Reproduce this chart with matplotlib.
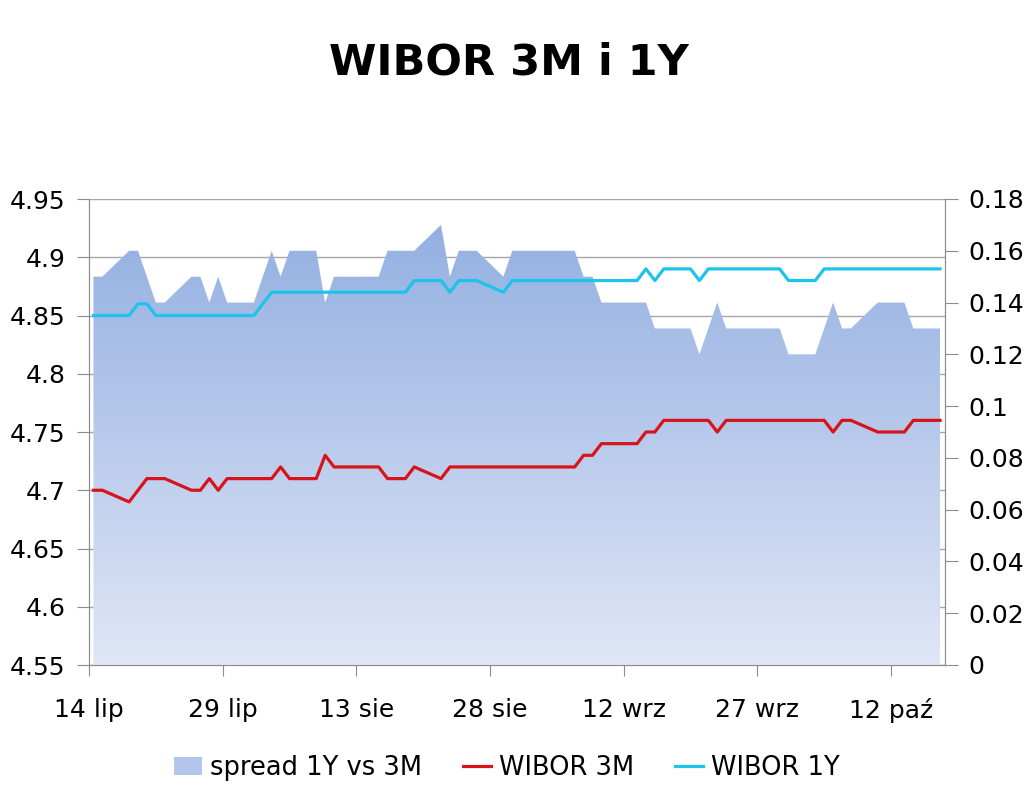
import matplotlib
matplotlib.use('Agg')
import matplotlib.pyplot as plt
import matplotlib.dates as mdates
from matplotlib.colors import LinearSegmentedColormap
from matplotlib.lines import Line2D
from matplotlib.patches import Patch
from matplotlib.ticker import FuncFormatter
import numpy as np
import pandas as pd

# fixing days, 14 Jul - 17 Oct 2011
dates = pd.bdate_range('2011-07-14', '2011-10-17')

wibor_3m = [
    4.70, 4.70,
    4.69, 4.70, 4.71, 4.71, 4.71,
    4.70, 4.70, 4.71, 4.70, 4.71,
    4.71, 4.71, 4.71, 4.72, 4.71,
    4.71, 4.73, 4.72, 4.72, 4.72,
    4.72, 4.71, 4.71, 4.71, 4.72,
    4.71, 4.72, 4.72, 4.72, 4.72,
    4.72, 4.72, 4.72, 4.72, 4.72,
    4.72, 4.72, 4.73, 4.73, 4.74,
    4.74, 4.74, 4.75, 4.75, 4.76,
    4.76, 4.76, 4.76, 4.75, 4.76,
    4.76, 4.76, 4.76, 4.76, 4.76,
    4.76, 4.76, 4.75, 4.76, 4.76,
    4.75, 4.75, 4.75, 4.75, 4.76,
    4.76,
]

wibor_1y = [
    4.85, 4.85,
    4.85, 4.86, 4.86, 4.85, 4.85,
    4.85, 4.85, 4.85, 4.85, 4.85,
    4.85, 4.86, 4.87, 4.87, 4.87,
    4.87, 4.87, 4.87, 4.87, 4.87,
    4.87, 4.87, 4.87, 4.87, 4.88,
    4.88, 4.87, 4.88, 4.88, 4.88,
    4.87, 4.88, 4.88, 4.88, 4.88,
    4.88, 4.88, 4.88, 4.88, 4.88,
    4.88, 4.88, 4.89, 4.88, 4.89,
    4.89, 4.88, 4.89, 4.89, 4.89,
    4.89, 4.89, 4.89, 4.89, 4.88,
    4.88, 4.89, 4.89, 4.89, 4.89,
    4.89, 4.89, 4.89, 4.89, 4.89,
    4.89,
]

tick_dates = ['2011-07-14', '2011-07-29', '2011-08-13', '2011-08-28',
              '2011-09-12', '2011-09-27', '2011-10-12']
tick_labels = ['14 lip', '29 lip', '13 sie', '28 sie', '12 wrz', '27 wrz', '12 paź']

spread = np.round(np.array(wibor_1y) - np.array(wibor_3m), 2)

# Excel date axis puts each point in the middle of its day
x = mdates.date2num(dates + pd.Timedelta(hours=12))
x0 = mdates.date2num(pd.Timestamp('2011-07-14'))
x1 = mdates.date2num(pd.Timestamp('2011-10-18'))

GRAY = '#8c8c8c'
FS = 18

fig = plt.figure(figsize=(10.24, 7.91), dpi=100)
rect = [89 / 1024, 1 - 665 / 791, (944.5 - 89) / 1024, (665 - 199) / 791]

# bottom layer: left scale with grid
ax = fig.add_axes(rect)
ax.set_zorder(0)
ax.set_xlim(x0, x1)
ax.set_ylim(4.55, 4.95)
ax.set_yticks(np.arange(4.55, 4.951, 0.05))
ax.yaxis.set_major_formatter(FuncFormatter(lambda v, p: f'{v:g}'))
ax.grid(axis='y', color='#a6a6a6', lw=1)
ax.set_axisbelow(True)
ax.set_xticks(mdates.date2num(pd.to_datetime(tick_dates)))
ax.set_xticklabels(tick_labels)
ax.spines['top'].set_visible(False)
for s in ['left', 'bottom', 'right']:
    ax.spines[s].set_color(GRAY)
ax.tick_params(axis='y', labelsize=FS, length=9, color=GRAY, pad=8)
ax.tick_params(axis='x', labelsize=FS, length=8, color=GRAY, pad=16)

# middle layer: spread area on right scale
ax2 = ax.twinx()
ax2.set_zorder(1)
ax2.set_ylim(0, 0.18)
ax2.set_yticks(np.arange(0, 0.181, 0.02))
ax2.yaxis.set_major_formatter(FuncFormatter(lambda v, p: f'{v:g}'))
ax2.tick_params(axis='y', labelsize=FS, length=9, color=GRAY, pad=8)
for s in ['left', 'bottom', 'right']:
    ax2.spines[s].set_color(GRAY)
ax2.spines['top'].set_visible(False)

poly = ax2.fill_between(x, spread, 0, facecolor='none', edgecolor='none')
cmap = LinearSegmentedColormap.from_list('area', ['#e0e6f6', '#8fade0'])
grad = np.linspace(0, 1, 256).reshape(-1, 1)
img = ax2.imshow(grad, extent=[x0, x1, 0, 0.18], origin='lower',
                 aspect='auto', cmap=cmap, zorder=1)
img.set_clip_path(poly.get_paths()[0], transform=ax2.transData)
ax2.set_xlim(x0, x1)
ax2.set_ylim(0, 0.18)

# top layer: rate lines on left scale
ax3 = fig.add_axes(rect, sharex=ax, sharey=ax)
ax3.set_zorder(2)
ax3.patch.set_visible(False)
ax3.axis('off')
ax3.plot(x, wibor_3m, color='#d7141a', lw=2.3)
ax3.plot(x, wibor_1y, color='#1cc3ea', lw=2.3)
ax3.set_xlim(x0, x1)
ax3.set_ylim(4.55, 4.95)

fig.text(0.497, 0.921, 'WIBOR 3M i 1Y', ha='center', va='center',
         fontsize=31, fontweight='bold')

handles = [
    Patch(facecolor='#b4c7ea', edgecolor='none'),
    Line2D([], [], color='#d7141a', lw=2.3),
    Line2D([], [], color='#1cc3ea', lw=2.3),
]
fig.legend(handles, ['spread 1Y vs 3M', 'WIBOR 3M', 'WIBOR 1Y'],
           loc='center', bbox_to_anchor=(0.495, 0.029), ncol=3,
           frameon=False, fontsize=18.5, handlelength=1.1, handletextpad=0.3,
           columnspacing=1.6)

fig.savefig('out.png', dpi=100)
